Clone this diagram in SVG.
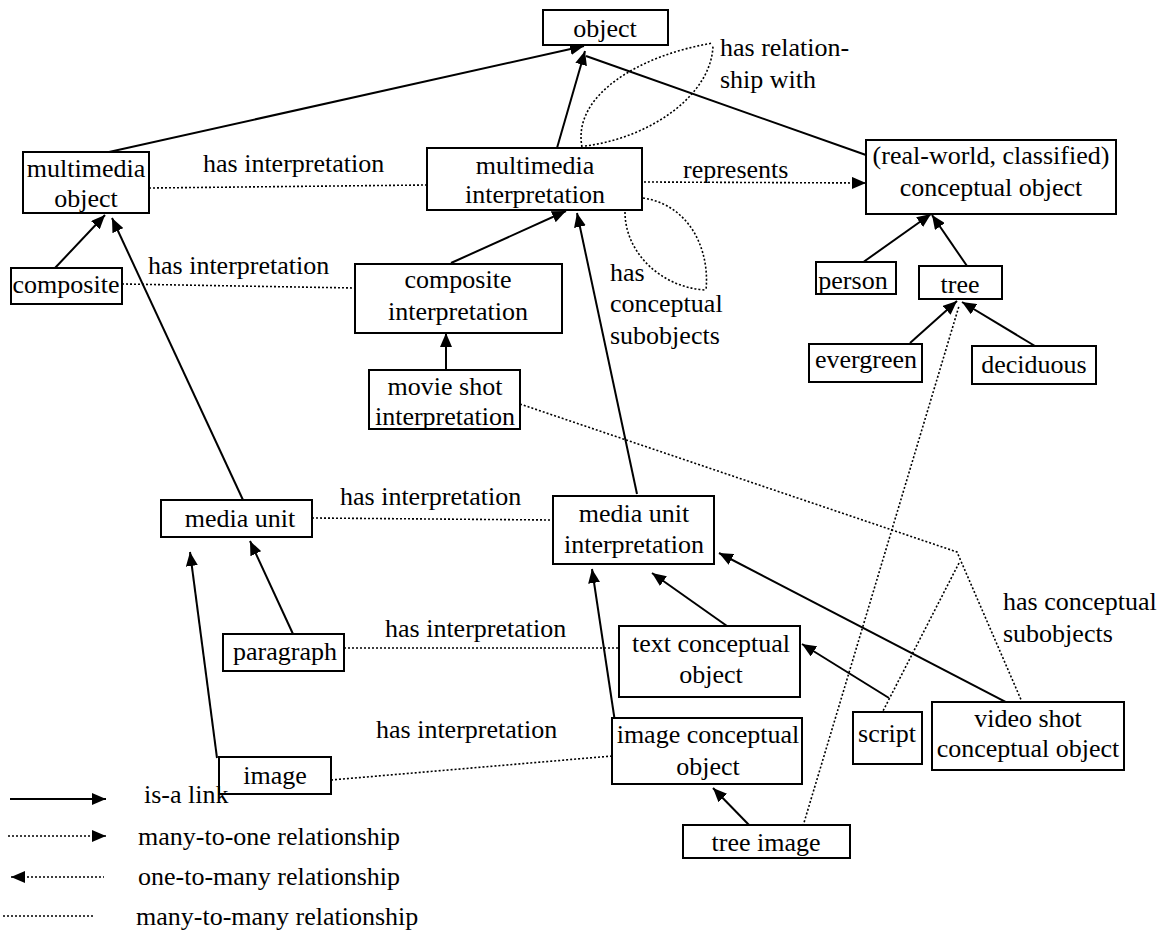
<svg xmlns="http://www.w3.org/2000/svg" width="1174" height="931" viewBox="0 0 1174 931">
<style>
.box{fill:#fff;stroke:#000;stroke-width:2}
text{font-family:'Liberation Serif','DejaVu Serif','Times New Roman',serif;font-size:26px;fill:#000}
.c{text-anchor:middle}
.isa{stroke:#000;stroke-width:2;fill:none}
.dot{stroke:#000;stroke-width:1.6;stroke-dasharray:2,2;fill:none}
</style>
<defs>
<marker id="ah" viewBox="0 0 14 12" refX="14" refY="6" markerWidth="14" markerHeight="12" orient="auto" markerUnits="userSpaceOnUse"><path d="M0,0 L14,6 L0,12 z" fill="#000"/></marker>
<marker id="ahs" viewBox="0 0 14 12" refX="0" refY="6" markerWidth="14" markerHeight="12" orient="auto" markerUnits="userSpaceOnUse"><path d="M14,0 L0,6 L14,12 z" fill="#000"/></marker>
</defs>
<rect width="1174" height="931" fill="#fff"/>
<g id="connectors">
<line class="isa" x1="100" y1="154" x2="584" y2="46" marker-end="url(#ah)"/>
<line class="isa" x1="557" y1="148" x2="585" y2="51" marker-end="url(#ah)"/>
<line class="isa" x1="866" y1="155" x2="586" y2="56"/>
<line class="isa" x1="55" y1="268" x2="105" y2="215" marker-end="url(#ah)"/>
<line class="isa" x1="243" y1="500" x2="112" y2="218" marker-end="url(#ah)"/>
<line class="isa" x1="451" y1="263" x2="566" y2="211" marker-end="url(#ah)"/>
<line class="isa" x1="446" y1="370" x2="446" y2="333" marker-end="url(#ah)"/>
<line class="isa" x1="637" y1="494" x2="577" y2="213" marker-end="url(#ah)"/>
<line class="isa" x1="293" y1="634" x2="250" y2="541" marker-end="url(#ah)"/>
<line class="isa" x1="217" y1="758" x2="190" y2="552" marker-end="url(#ah)"/>
<line class="isa" x1="727" y1="626" x2="652" y2="573" marker-end="url(#ah)"/>
<line class="isa" x1="615" y1="722" x2="592" y2="569" marker-end="url(#ah)"/>
<line class="isa" x1="1027" y1="713" x2="719" y2="553" marker-end="url(#ah)"/>
<line class="isa" x1="889" y1="698" x2="802" y2="644" marker-end="url(#ah)"/>
<line class="isa" x1="750" y1="826" x2="713" y2="788" marker-end="url(#ah)"/>
<line class="isa" x1="862" y1="263" x2="931" y2="214" marker-end="url(#ah)"/>
<line class="isa" x1="967" y1="266" x2="932" y2="215" marker-end="url(#ah)"/>
<line class="isa" x1="910" y1="343" x2="957" y2="301" marker-end="url(#ah)"/>
<line class="isa" x1="1035" y1="346" x2="962" y2="302" marker-end="url(#ah)"/>
<line class="dot" x1="149" y1="188" x2="427" y2="185"/>
<line class="dot" x1="644" y1="182" x2="866" y2="183" marker-end="url(#ah)"/>
<line class="dot" x1="122" y1="284" x2="355" y2="288"/>
<line class="dot" x1="312" y1="518" x2="553" y2="520"/>
<line class="dot" x1="344" y1="648" x2="619" y2="648"/>
<line class="dot" x1="331" y1="780" x2="612" y2="756"/>
<polyline class="dot" points="520,404 957,552 1022,702"/>
<line class="dot" x1="959" y1="563" x2="883" y2="711"/>
<line class="dot" x1="803" y1="826" x2="959" y2="306"/>
<path class="dot" d="M582,147 C572,95 640,55 713,43"/>
<path class="dot" d="M585,146 C650,138 712,95 713,45"/>
<path class="dot" d="M643,198 C690,205 710,250 706,290"/>
<path class="dot" d="M625,212 C625,252 660,287 705,290"/>
</g>
<g font-family="'Liberation Serif','DejaVu Serif',serif" font-size="26">
<g id="object"><rect class="box" x="543" y="10" width="125" height="35"/><text class="c" x="605" y="37">object</text></g>
<g id="multimedia-object"><rect class="box" x="23" y="152" width="126" height="61"/><text class="c" x="86" y="177">multimedia</text><text class="c" x="86" y="207">object</text></g>
<g id="multimedia-interpretation"><rect class="box" x="427" y="148" width="215" height="62"/><text class="c" x="535" y="174">multimedia</text><text class="c" x="535" y="203">interpretation</text></g>
<g id="conceptual-object"><rect class="box" x="866" y="140" width="250" height="74"/><text class="c" x="991" y="164">(real-world, classified)</text><text class="c" x="991" y="196">conceptual object</text></g>
<g id="person"><rect class="box" x="816" y="262" width="80" height="32"/><text class="c" x="853" y="289">person</text></g>
<g id="tree"><rect class="box" x="919" y="266" width="83" height="33"/><text class="c" x="960" y="293">tree</text></g>
<g id="evergreen"><rect class="box" x="809" y="344" width="113" height="38"/><text class="c" x="866" y="368">evergreen</text></g>
<g id="deciduous"><rect class="box" x="972" y="346" width="124" height="38"/><text class="c" x="1034" y="373">deciduous</text></g>
<g id="composite"><rect class="box" x="11" y="268" width="111" height="36"/><text class="c" x="66" y="293">composite</text></g>
<g id="composite-interpretation"><rect class="box" x="355" y="264" width="207" height="69"/><text class="c" x="458" y="288">composite</text><text class="c" x="458" y="320">interpretation</text></g>
<g id="movie-shot-interpretation"><rect class="box" x="369" y="370" width="151" height="59"/><text class="c" x="445" y="395">movie shot</text><text class="c" x="445" y="425">interpretation</text></g>
<g id="media-unit"><rect class="box" x="161" y="500" width="151" height="37"/><text class="c" x="240" y="527">media unit</text></g>
<g id="paragraph"><rect class="box" x="223" y="634" width="121" height="37"/><text class="c" x="285" y="660">paragraph</text></g>
<g id="image"><rect class="box" x="219" y="757" width="112" height="37"/><text class="c" x="275" y="784">image</text></g>
<g id="media-unit-interpretation"><rect class="box" x="553" y="496" width="161" height="68"/><text class="c" x="634" y="522">media unit</text><text class="c" x="634" y="553">interpretation</text></g>
<g id="text-conceptual-object"><rect class="box" x="619" y="626" width="181" height="71"/><text class="c" x="711" y="652">text conceptual</text><text class="c" x="711" y="683">object</text></g>
<g id="image-conceptual-object"><rect class="box" x="612" y="718" width="190" height="66"/><text class="c" x="708" y="743">image conceptual</text><text class="c" x="708" y="775">object</text></g>
<g id="tree-image"><rect class="box" x="683" y="825" width="167" height="33"/><text class="c" x="766" y="851">tree image</text></g>
<g id="script"><rect class="box" x="853" y="712" width="69" height="52"/><text class="c" x="887" y="742">script</text></g>
<g id="video-shot-conceptual-object"><rect class="box" x="932" y="702" width="192" height="68"/><text class="c" x="1028" y="727">video shot</text><text class="c" x="1028" y="757">conceptual object</text></g>
<g id="labels">
<text x="203" y="172">has interpretation</text>
<text x="720" y="56">has relation-</text>
<text x="720" y="88">ship with</text>
<text x="683" y="178">represents</text>
<text x="148" y="274">has interpretation</text>
<text x="610" y="281">has</text>
<text x="610" y="312">conceptual</text>
<text x="610" y="344">subobjects</text>
<text x="340" y="505">has interpretation</text>
<text x="385" y="637">has interpretation</text>
<text x="376" y="738">has interpretation</text>
<text x="1003" y="610">has conceptual</text>
<text x="1003" y="642">subobjects</text>
</g>
<g id="legend">
<line class="isa" x1="10" y1="799" x2="106" y2="799" marker-end="url(#ah)"/>
<text x="144" y="803">is-a link</text>
<line class="dot" x1="8" y1="836" x2="106" y2="836" marker-end="url(#ah)"/>
<text x="138" y="845">many-to-one relationship</text>
<line class="dot" x1="11" y1="877" x2="104" y2="877" marker-start="url(#ahs)"/>
<text x="138" y="885">one-to-many relationship</text>
<line class="dot" x1="3" y1="916" x2="93" y2="916"/>
<text x="136" y="925">many-to-many relationship</text>
</g>
</g>
</svg>
